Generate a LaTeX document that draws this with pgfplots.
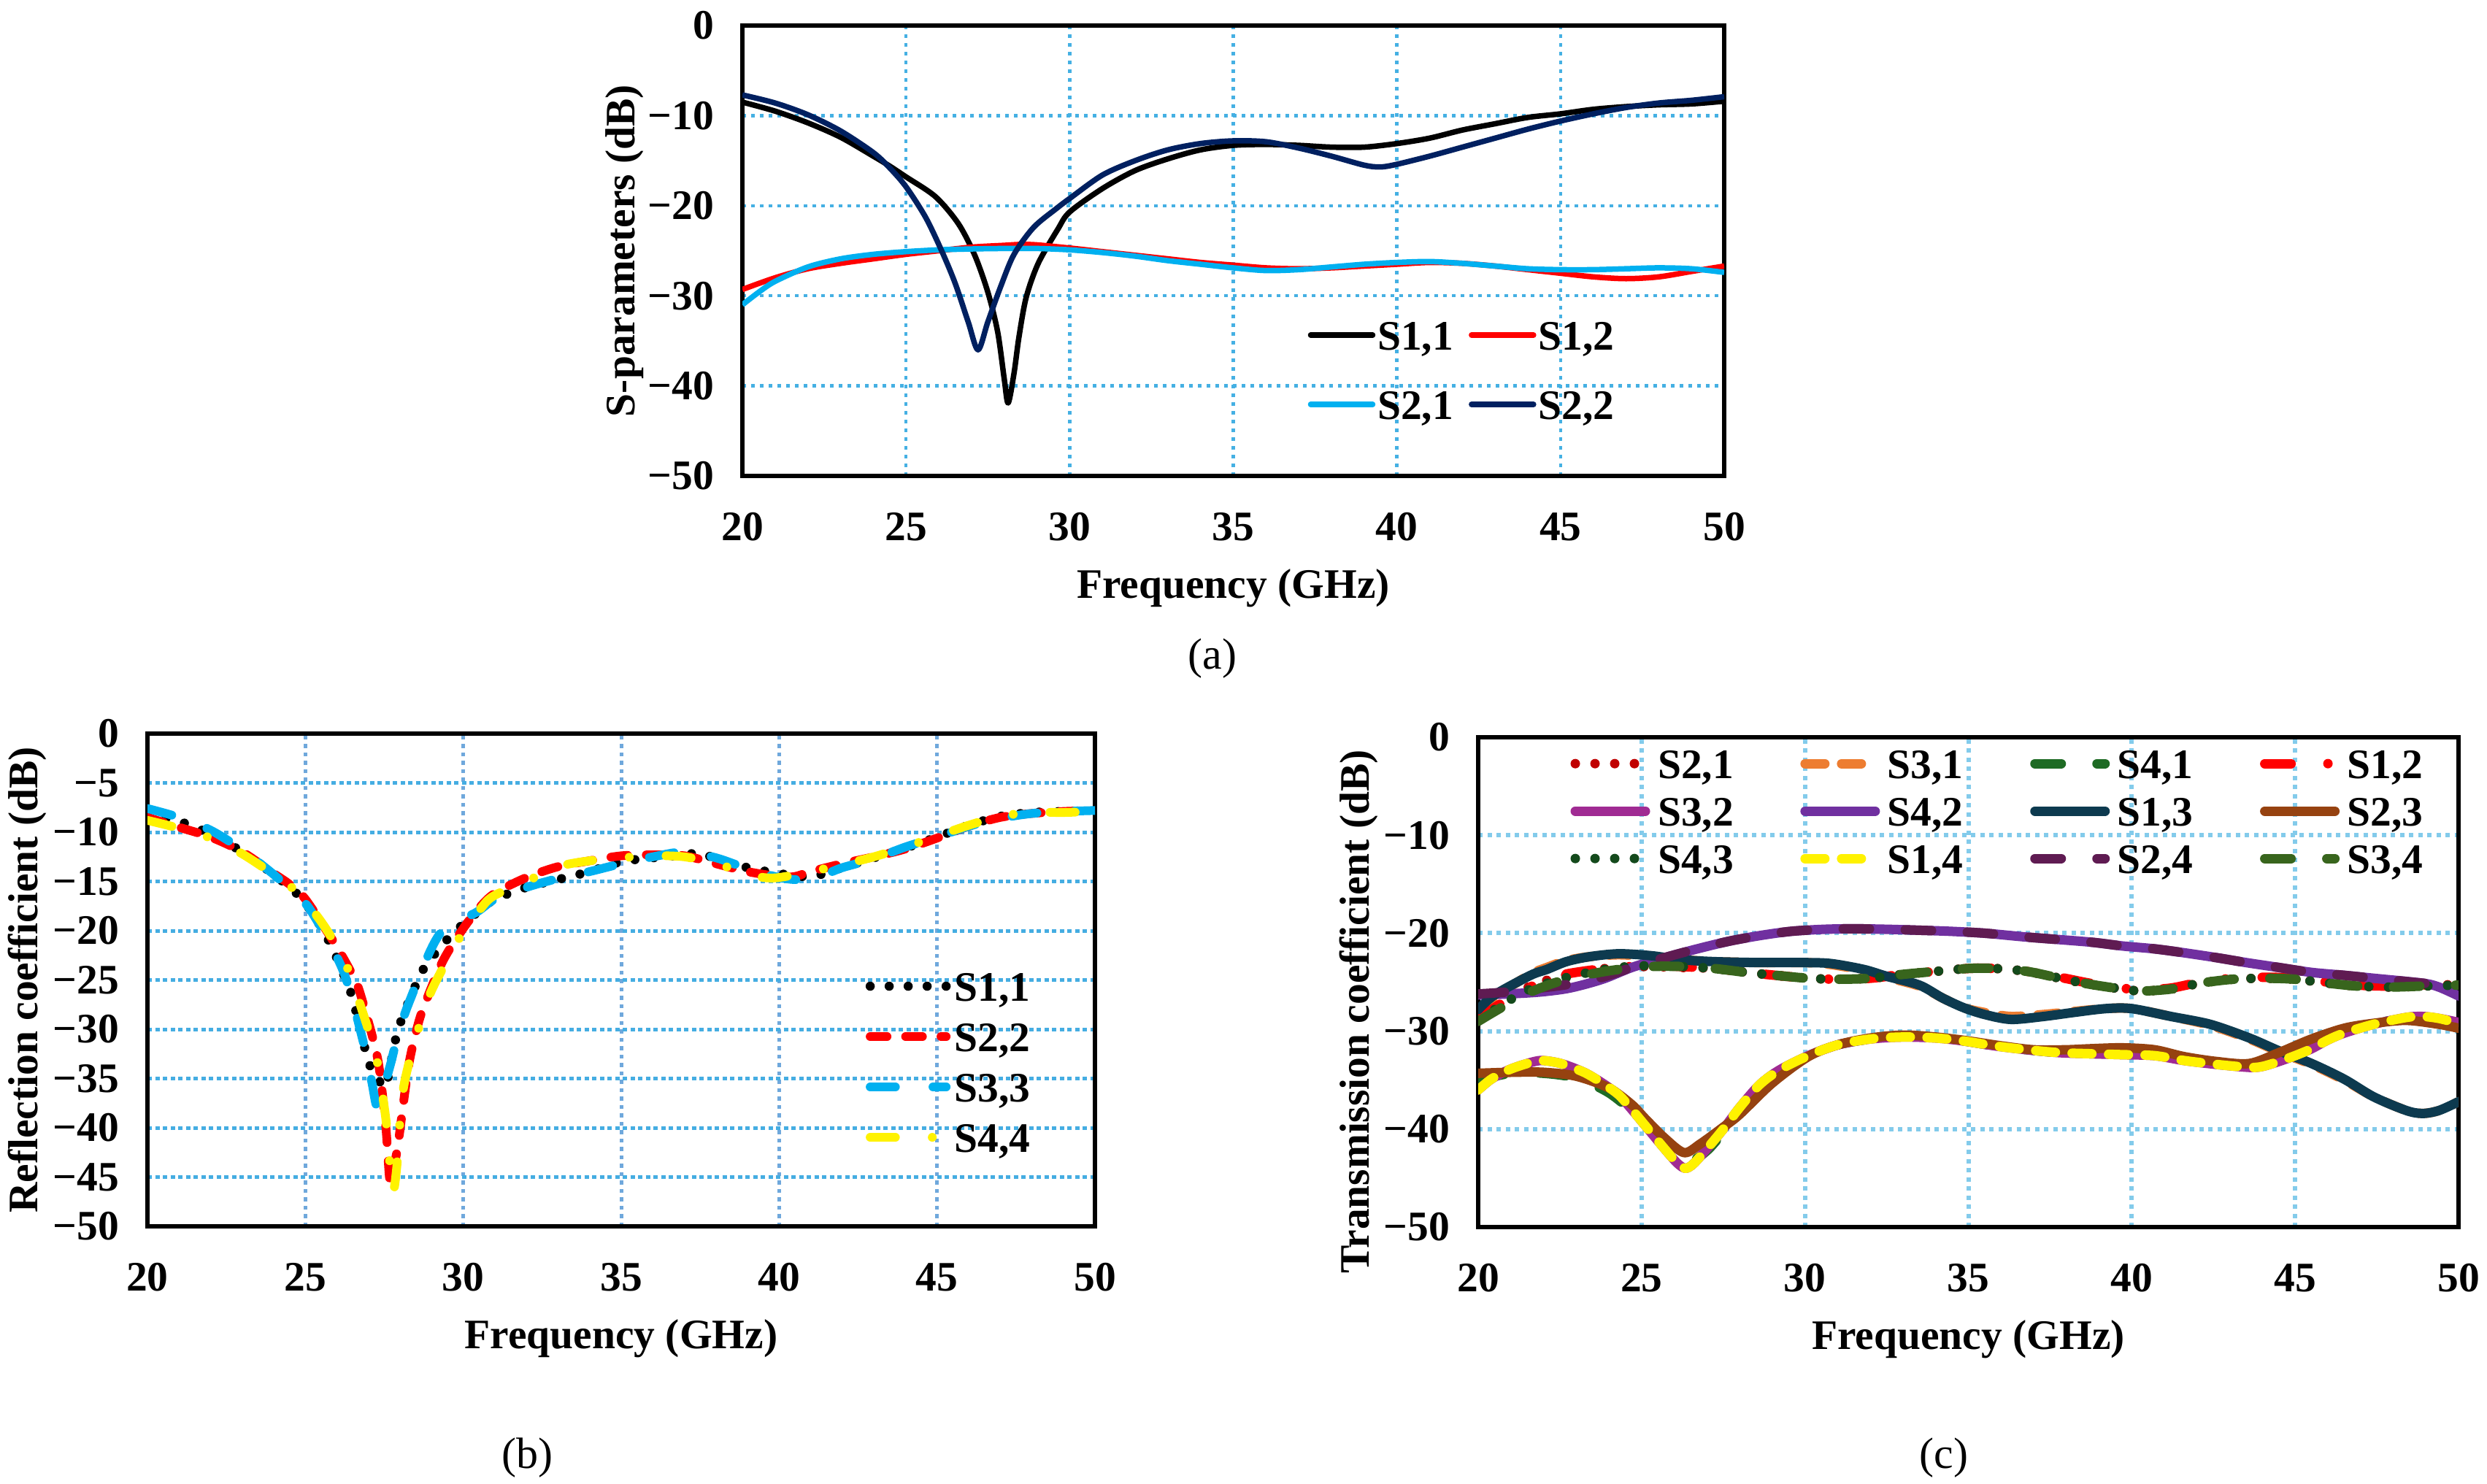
\documentclass[border=0pt]{standalone}
\usepackage{fontspec}
\setmainfont{Liberation Serif}
\usepackage{pgfplots}
\pgfplotsset{compat=1.18}

\definecolor{gridA}{HTML}{45B0E3}
\definecolor{gridBy}{HTML}{45ADE2}
\definecolor{gridBx}{HTML}{6FA8DC}
\definecolor{gridC}{HTML}{83CBEB}
\definecolor{lblue}{HTML}{00B0F0}
\definecolor{navy}{HTML}{002060}
\definecolor{dred}{HTML}{C00000}
\definecolor{orng}{HTML}{ED7D31}
\definecolor{grA}{HTML}{1E6B24}
\definecolor{mag}{HTML}{A02B93}
\definecolor{purp}{HTML}{7030A0}
\definecolor{tealc}{HTML}{0D3A4F}
\definecolor{brownc}{HTML}{964210}
\definecolor{dgrc}{HTML}{144A1C}
\definecolor{plum}{HTML}{5F1B52}
\definecolor{grB}{HTML}{38651D}

\newcommand{\ff}{\fontsize{11.5pt}{13.8pt}\selectfont\bfseries}

\pgfplotsset{
  myaxis/.style={
    scale only axis,
    xmin=20, xmax=50, ymin=-50, ymax=0,
    xtick={20,25,30,35,40,45,50},
    xticklabels={20,25,30,35,40,45,50},
    major tick length=0pt,
    grid=major,
    axis line style={line width=1.2pt, black},
    tick label style={font=\ff, inner sep=0pt},
    xticklabel style={anchor=base, yshift=-17.7pt},
    yticklabel style={anchor=east, xshift=-7.6pt},
    label style={font=\ff, inner sep=0pt},
    xlabel={Frequency (GHz)},
    xlabel style={at={(axis description cs:0.5,0)}, anchor=base, yshift=-33.5pt},
    legend cell align=left,
    every axis plot/.append style={line join=round},
  },
  bdot/.style={line width=2.5pt, line cap=round, dash pattern=on 0pt off 5.2pt},
  bdash/.style={line width=2.4pt, line cap=round, dash pattern=on 4.6pt off 5.1pt},
  blong/.style={line width=2.4pt, line cap=round, dash pattern=on 6.9pt off 10.3pt},
  blongdot/.style={line width=2.4pt, line cap=round, dash pattern=on 6.9pt off 10.1pt on 0pt off 10.1pt},
  csolid/.style={line width=2.6pt, line cap=round},
  cdot/.style={line width=2.6pt, line cap=round, dash pattern=on 0pt off 5.4pt},
  cdash/.style={line width=2.6pt, line cap=round, dash pattern=on 5.4pt off 4.6pt},
  clong/.style={line width=2.6pt, line cap=round, dash pattern=on 7.2pt off 9.8pt},
  clongdot/.style={line width=2.6pt, line cap=round, dash pattern=on 7.2pt off 10.1pt on 0pt off 10.1pt},
}

\begin{document}
\begin{tikzpicture}
\useasboundingbox (0,0) rectangle (681.4pt,-406.4pt);

% ---------------- (a) ----------------
\begin{axis}[myaxis,
  at={(203.4pt,-130.4pt)}, anchor=south west,
  width=269pt, height=123.4pt,
  ytick={-50,-40,-30,-20,-10,0},
  yticklabels={−50,−40,−30,−20,−10,0},
  grid style={color=gridA, line width=0.9pt, dash pattern=on 1pt off 1.4pt},
  ylabel={S-parameters (dB)},
  ylabel style={at={(axis description cs:-0.110,0.5)}, anchor=base},
  legend columns=2,
  legend image code/.code={\draw[#1, line cap=round] (0pt,0pt) -- (17pt,0pt);},
  legend style={draw=none, fill=none, inner sep=0pt, outer sep=0pt,
    at={(axis description cs:0.576,0.3452)}, anchor=north west,
    row sep=11pt,
    nodes={inner sep=0pt, text height=8pt, text depth=0pt, font=\ff},
    /tikz/every odd column/.append style={column sep=0.6pt},
    /tikz/every even column/.append style={column sep=4.2pt}},
]
\addplot[black, line width=1.5pt, smooth] coordinates {
(20,-8.5)(21,-9.5)(22,-10.8)(23,-12.4)(24,-14.5)(24.5,-15.6)(25,-16.8)(25.9,-19.0)(26.6,-22.0)(27.1,-25.5)(27.5,-29.6)(27.8,-34.0)(28.0,-39.2)(28.12,-41.9)(28.3,-38.6)(28.45,-34.6)(28.67,-30.2)(29.04,-26.4)(29.64,-22.6)(30,-20.7)(31,-18.1)(32,-16.1)(33,-14.8)(34,-13.8)(35,-13.3)(36,-13.2)(37,-13.3)(38,-13.5)(39,-13.5)(40,-13.1)(41,-12.5)(42,-11.6)(43,-10.9)(44,-10.2)(45,-9.8)(46,-9.3)(47,-9.0)(48,-8.8)(49,-8.7)(50,-8.4)};
\addlegendentry{S1,1}
\addplot[red, line width=1.5pt, smooth] coordinates {
(20,-29.3)(21,-28.0)(22,-27.0)(23,-26.4)(24,-25.9)(25,-25.4)(26,-25.0)(27,-24.6)(28,-24.4)(28.5,-24.3)(29,-24.35)(30,-24.7)(31,-25.1)(32,-25.5)(33,-25.9)(34,-26.3)(35,-26.6)(36,-26.9)(37,-27.0)(38,-26.9)(39,-26.7)(40,-26.5)(41,-26.3)(42,-26.4)(43,-26.7)(44,-27.1)(45,-27.5)(46,-27.9)(47,-28.1)(48,-27.9)(49,-27.3)(50,-26.7)};
\addlegendentry{S1,2}
\addplot[lblue, line width=1.5pt, smooth] coordinates {
(20,-31.0)(20.5,-29.6)(21,-28.4)(22,-26.8)(23,-25.9)(24,-25.4)(25,-25.1)(26,-24.9)(27,-24.8)(28,-24.75)(29,-24.75)(30,-24.9)(31,-25.2)(32,-25.6)(33,-26.1)(34,-26.5)(35,-26.9)(36,-27.2)(37,-27.1)(38,-26.8)(39,-26.5)(40,-26.3)(41,-26.2)(42,-26.4)(43,-26.7)(44,-27.0)(45,-27.1)(46,-27.1)(47,-27.0)(48,-26.9)(49,-27.0)(50,-27.4)};
\addlegendentry{S2,1}
\addplot[navy, line width=1.5pt, smooth] coordinates {
(20,-7.7)(21,-8.6)(22,-9.9)(23,-11.7)(24,-14.1)(24.5,-15.8)(25,-17.9)(25.6,-21.3)(26.1,-25.1)(26.5,-28.6)(26.9,-32.9)(27.2,-36.0)(27.5,-32.9)(27.9,-28.9)(28.3,-25.4)(28.9,-22.4)(29.6,-20.3)(30,-19.2)(31,-16.6)(32,-15.0)(33,-13.8)(34,-13.1)(35,-12.8)(36,-12.9)(37,-13.6)(38,-14.5)(39,-15.5)(39.5,-15.7)(40,-15.4)(41,-14.5)(42,-13.5)(43,-12.5)(44,-11.5)(45,-10.6)(46,-9.8)(47,-9.1)(48,-8.6)(49,-8.3)(50,-7.9)};
\addlegendentry{S2,2}
\end{axis}

% ---------------- (b) ----------------
\begin{axis}[myaxis,
  at={(40.4pt,-336pt)}, anchor=south west,
  width=259.6pt, height=135pt,
  ytick={-50,-45,-40,-35,-30,-25,-20,-15,-10,-5,0},
  yticklabels={−50,−45,−40,−35,−30,−25,−20,−15,−10,−5,0},
  x grid style={color=gridBx, line width=1pt, dash pattern=on 1.1pt off 1.2pt},
  y grid style={color=gridBy, line width=1pt, dash pattern=on 1.2pt off 0.9pt},
  ylabel={Reflection coefficient (dB)},
  ylabel style={at={(axis description cs:-0.1156,0.5)}, anchor=base},
  legend columns=1,
  legend image code/.code={\draw[#1] (0pt,0pt) -- (20.8pt,0pt);},
  legend style={draw=none, fill=none, inner sep=0pt, outer sep=0pt,
    at={(axis description cs:0.758,0.517)}, anchor=north west,
    row sep=5.8pt,
    nodes={inner sep=0pt, text height=8pt, text depth=0pt, font=\ff},
    /tikz/every odd column/.append style={column sep=1.1pt}},
]
\addplot[black, bdot, smooth] coordinates {
(20,-8.2)(21,-8.9)(22,-10.2)(23,-12.0)(24,-14.3)(24.5,-15.6)(25,-17.2)(25.77,-21.2)(26.43,-26.2)(26.58,-27.9)(27.0,-33.3)(27.3,-35.0)(27.55,-35.7)(27.93,-30.1)(28.55,-25.1)(28.82,-23.5)(29.4,-21.2)(29.97,-19.4)(30.5,-18.0)(31,-16.8)(32,-15.6)(33,-14.8)(34,-14.0)(35,-13.0)(36,-12.6)(37,-12.3)(37.5,-12.1)(38,-12.7)(39,-13.6)(40,-14.2)(41,-14.5)(42,-13.6)(43,-12.6)(44,-11.6)(45,-10.5)(46,-9.3)(47,-8.4)(48,-8.0)(49,-7.9)(50,-7.8)};
\addlegendentry{S1,1}
\addplot[red, bdash, smooth] coordinates {
(20,-8.5)(21,-9.5)(22,-10.5)(23,-12.0)(24,-14.2)(24.5,-15.3)(25,-16.8)(25.89,-21.1)(26.43,-24.1)(26.7,-26.0)(27.16,-31.2)(27.35,-34.2)(27.55,-40.0)(27.68,-45.5)(27.8,-44.0)(27.93,-41.8)(28.08,-38.1)(28.28,-33.5)(28.51,-30.2)(28.74,-27.8)(29.35,-23.1)(29.97,-19.9)(30.5,-17.7)(31,-16.2)(32,-14.6)(33,-13.5)(34,-12.9)(35,-12.4)(36,-12.3)(37,-12.4)(38,-13.2)(39,-14.0)(40,-14.5)(40.5,-14.5)(41,-14.0)(42,-13.2)(43,-12.5)(44,-11.7)(45,-10.6)(46,-9.4)(47,-8.5)(48,-8.1)(49,-7.9)(50,-7.8)};
\addlegendentry{S2,2}
\addplot[lblue, blong, smooth] coordinates {
(20,-7.6)(21,-8.5)(22,-9.8)(23,-11.8)(24,-14.3)(24.5,-15.8)(25.16,-17.9)(26.2,-24.1)(26.85,-31.5)(27.1,-35.3)(27.27,-37.9)(27.45,-36.3)(27.7,-33.5)(27.9,-31.0)(28.28,-27.3)(29.24,-20.4)(30.43,-18.1)(31,-16.8)(32,-15.6)(33,-14.7)(34,-14.0)(35,-13.2)(36,-12.5)(37,-12.0)(38,-12.6)(39,-13.7)(40,-14.6)(40.7,-14.8)(41.5,-14.2)(42,-13.6)(43,-12.7)(44,-11.5)(45,-10.5)(46,-9.4)(47,-8.6)(48,-8.1)(49,-7.9)(50,-7.8)};
\addlegendentry{S3,3}
\addplot[yellow, blongdot, smooth] coordinates {
(20,-8.8)(21,-9.6)(22,-10.6)(23,-12.2)(24,-14.3)(24.5,-15.4)(25.27,-18.1)(25.81,-20.6)(26.31,-23.6)(26.97,-29.8)(27.27,-33.2)(27.54,-38.9)(27.66,-43.1)(27.77,-46.5)(27.89,-44.1)(28.12,-35.7)(28.82,-27.5)(29.35,-23.8)(29.74,-21.4)(30.59,-17.6)(31,-16.4)(32,-15.0)(33,-13.5)(34,-12.9)(35,-12.6)(36,-12.4)(37,-12.5)(38,-13.2)(39,-14.2)(39.5,-14.6)(40,-14.6)(41,-14.0)(42,-13.3)(43,-12.5)(44,-11.5)(45,-10.4)(46,-9.3)(47,-8.4)(48,-8.0)(49,-8.0)(50,-7.9)};
\addlegendentry{S4,4}
\end{axis}

% ---------------- (c) ----------------
\begin{axis}[myaxis,
  at={(405pt,-336.2pt)}, anchor=south west,
  width=268.6pt, height=134.2pt,
  ytick={-50,-40,-30,-20,-10,0},
  yticklabels={−50,−40,−30,−20,−10,0},
  grid style={color=gridC, line width=1.2pt, dash pattern=on 1.2pt off 1.3pt},
  ylabel={Transmission coefficient (dB)},
  ylabel style={at={(axis description cs:-0.111,0.44)}, anchor=base},
  legend columns=4,
  legend image code/.code={\draw[#1] (0pt,0pt) -- (19.2pt,0pt);},
  legend style={draw=none, fill=none, inner sep=0pt, outer sep=0pt,
    at={(axis description cs:0.0942,0.976)}, anchor=north west,
    row sep=5pt,
    nodes={inner sep=0pt, text height=8pt, text depth=0pt, font=\ff},
    /tikz/every odd column/.append style={column sep=2.1pt},
    /tikz/every even column/.append style={column sep=18.3pt}},
]
% S2,1
\addplot[dred, cdot, smooth] coordinates {
(20,-28.7)(20.5,-27.5)(21.4,-25.7)(22.4,-24.5)(23.4,-23.8)(24.3,-23.5)(25.3,-23.4)(26.2,-23.5)(27.2,-23.6)(28.2,-24.0)(29.1,-24.3)(30.1,-24.6)(31,-24.7)(32,-24.6)(33,-24.2)(34,-23.9)(35,-23.6)(35.8,-23.6)(36.8,-23.9)(37.8,-24.6)(38.7,-25.2)(39.7,-25.7)(40.3,-25.9)(41.2,-25.7)(42.1,-25.1)(43.1,-24.7)(44.1,-24.6)(45,-24.7)(46,-25.1)(46.9,-25.4)(47.9,-25.5)(48.9,-25.4)(50,-25.2)};
\addlegendentry{S2,1}
% S3,1
\addplot[orng, cdash, smooth] coordinates {
(20,-28.0)(20.5,-26.5)(21.6,-24.2)(22.1,-23.5)(22.7,-22.8)(23.4,-22.4)(24.3,-22.2)(25.3,-22.4)(26.2,-22.7)(27.2,-22.9)(28.6,-23.0)(30,-23.0)(30.8,-23.2)(31.8,-23.8)(32.5,-24.5)(33.5,-25.4)(34.2,-26.6)(34.85,-27.6)(35.5,-28.1)(36.3,-28.5)(37.3,-28.3)(38.2,-28.0)(39.2,-27.7)(40,-27.7)(41.2,-28.5)(42.4,-29.4)(43.6,-30.8)(44.5,-32.1)(45.5,-33.4)(46.5,-35.0)(47.4,-36.7)(48.4,-38.1)(48.9,-38.4)(49.4,-38.1)(50,-37.2)};
\addlegendentry{S3,1}
% S4,1
\addplot[grA, clong, smooth] coordinates {
(20,-35.0)(21,-34.3)(22,-34.3)(23,-34.8)(24,-36.3)(25,-39.0)(26,-42.0)(26.5,-43.2)(27,-42.2)(27.5,-40.3)(28,-38.0)(28.6,-35.8)(29.2,-34.2)(30.1,-32.6)(31.0,-31.4)(32,-30.8)(33,-30.5)(34,-30.7)(34.85,-31.0)(35.8,-31.5)(36.8,-31.9)(37.8,-32.2)(38.7,-32.3)(39.7,-32.3)(40.7,-32.4)(41.6,-32.9)(42.6,-33.3)(43.6,-33.6)(44.0,-33.5)(44.5,-33.0)(45,-32.3)(45.5,-31.4)(46,-30.4)(46.5,-29.8)(47.4,-29.2)(48.4,-28.7)(48.9,-28.6)(49.4,-28.8)(50,-29.2)};
\addlegendentry{S4,1}
% S1,2
\addplot[red, clongdot, smooth] coordinates {
(20,-28.8)(20.5,-27.6)(21.4,-25.8)(22.4,-24.4)(23.4,-23.8)(24.3,-23.5)(25.3,-23.3)(26.2,-23.4)(27.2,-23.6)(28.2,-24.0)(29.1,-24.3)(30.1,-24.6)(31,-24.7)(32,-24.6)(33,-24.2)(34,-23.9)(35,-23.6)(35.8,-23.6)(36.8,-23.9)(37.8,-24.5)(38.7,-25.1)(39.7,-25.6)(40.3,-25.8)(41.2,-25.6)(42.1,-25.0)(43.1,-24.6)(44.1,-24.5)(45,-24.6)(46,-25.0)(46.9,-25.3)(47.9,-25.4)(48.9,-25.3)(50,-25.0)};
\addlegendentry{S1,2}
% S3,2
\addplot[mag, csolid, smooth] coordinates {
(20,-36.0)(20.4,-34.9)(20.9,-34.0)(21.4,-33.4)(21.9,-33.0)(22.4,-33.2)(22.8,-33.6)(23.3,-34.3)(23.8,-35.3)(24.3,-36.5)(24.7,-38.0)(25.2,-40.0)(25.7,-42.0)(26.1,-43.5)(26.35,-44.0)(26.6,-43.5)(27.0,-42.0)(27.5,-40.0)(28.0,-37.8)(28.6,-35.5)(29.2,-34.0)(30.1,-32.5)(31.0,-31.4)(32,-30.8)(33,-30.6)(34,-30.7)(34.85,-31.0)(35.8,-31.5)(36.8,-31.9)(37.8,-32.2)(38.7,-32.3)(39.7,-32.4)(40.7,-32.5)(41.6,-33.0)(42.6,-33.4)(43.6,-33.7)(44.0,-33.6)(44.5,-33.1)(45,-32.5)(45.5,-31.8)(46,-30.9)(46.5,-30.2)(47.4,-29.3)(48.4,-28.6)(48.9,-28.5)(49.4,-28.7)(50,-29.1)};
\addlegendentry{S3,2}
% S4,2
\addplot[purp, csolid, smooth] coordinates {
(20,-26.3)(20.9,-26.2)(21.9,-26.0)(22.8,-25.6)(23.8,-24.7)(24.7,-23.5)(25.7,-22.5)(26.7,-21.6)(27.7,-20.8)(28.7,-20.2)(29.6,-19.8)(30.6,-19.6)(31.5,-19.55)(32.5,-19.6)(33.5,-19.7)(34.4,-19.8)(35.5,-20.0)(36.8,-20.4)(38.7,-20.9)(39.7,-21.3)(40.7,-21.6)(41.6,-22.0)(42.6,-22.5)(43.5,-23.0)(44.5,-23.5)(45.5,-24.0)(46.5,-24.3)(47.4,-24.6)(48.9,-25.1)(49.4,-25.5)(50,-26.4)};
\addlegendentry{S4,2}
% S1,3
\addplot[tealc, csolid, smooth] coordinates {
(20,-27.8)(20.5,-26.3)(21.6,-24.3)(22.1,-23.7)(22.7,-22.9)(23.4,-22.4)(24.3,-22.1)(25.3,-22.3)(26.2,-22.7)(27.2,-22.9)(28.6,-23.0)(30,-23.0)(30.8,-23.1)(31.8,-23.7)(32.5,-24.4)(33.5,-25.3)(34.2,-26.6)(34.85,-27.6)(35.5,-28.3)(36.3,-28.8)(37.3,-28.5)(38.2,-28.1)(39.2,-27.7)(40,-27.7)(41.2,-28.5)(42.4,-29.3)(43.6,-30.7)(44.5,-32.0)(45.5,-33.3)(46.5,-34.9)(47.4,-36.7)(48.4,-38.1)(48.9,-38.4)(49.4,-38.1)(50,-37.2)};
\addlegendentry{S1,3}
% S2,3
\addplot[brownc, csolid, smooth] coordinates {
(20,-34.3)(21,-34.2)(22,-34.2)(23,-34.6)(24,-35.8)(24.7,-37.5)(25.1,-38.9)(25.7,-40.9)(26.3,-42.4)(26.8,-41.5)(27.5,-39.8)(28.0,-38.5)(29,-35.3)(30.1,-32.6)(31,-31.4)(32,-30.7)(33,-30.4)(34,-30.6)(35,-31.0)(36,-31.5)(37,-31.9)(38,-31.9)(38.7,-31.8)(39.7,-31.7)(40.7,-31.9)(41.6,-32.6)(42.6,-33.1)(43.6,-33.3)(44.5,-32.2)(45.5,-30.8)(46.5,-29.7)(47.4,-29.2)(48.4,-28.9)(49.4,-29.3)(50,-29.7)};
\addlegendentry{S2,3}
% S4,3
\addplot[dgrc, cdot, smooth] coordinates {
(20,-28.9)(20.5,-27.8)(21.4,-26.0)(22.4,-24.8)(23.4,-24.0)(24.3,-23.5)(25.3,-23.3)(26.2,-23.4)(27.2,-23.6)(28.2,-24.0)(29.1,-24.3)(30.1,-24.6)(31,-24.7)(32,-24.6)(33,-24.2)(34,-23.9)(35,-23.6)(35.8,-23.6)(36.8,-23.9)(37.8,-24.6)(38.7,-25.2)(39.7,-25.7)(40.3,-25.9)(41.2,-25.7)(42.1,-25.1)(43.1,-24.7)(44.1,-24.6)(45,-24.7)(46,-25.1)(46.9,-25.4)(47.9,-25.5)(48.9,-25.4)(50,-25.3)};
\addlegendentry{S4,3}
% S1,4
\addplot[yellow, cdash, smooth] coordinates {
(20,-36.0)(20.4,-34.9)(20.9,-34.0)(21.4,-33.4)(21.9,-33.0)(22.4,-33.2)(22.8,-33.6)(23.3,-34.3)(23.8,-35.3)(24.3,-36.5)(24.7,-38.0)(25.2,-40.0)(25.7,-42.0)(26.1,-43.5)(26.35,-44.0)(26.6,-43.5)(27.0,-42.0)(27.5,-40.0)(28.0,-37.8)(28.6,-35.5)(29.2,-34.0)(30.1,-32.5)(31.0,-31.4)(32,-30.8)(33,-30.6)(34,-30.7)(34.85,-31.0)(35.8,-31.5)(36.8,-31.9)(37.8,-32.2)(38.7,-32.3)(39.7,-32.4)(40.7,-32.5)(41.6,-33.0)(42.6,-33.4)(43.6,-33.7)(44.0,-33.6)(44.5,-33.1)(45,-32.5)(45.5,-31.8)(46,-30.9)(46.5,-30.2)(47.4,-29.3)(48.4,-28.6)(48.9,-28.5)(49.4,-28.7)(50,-29.2)};
\addlegendentry{S1,4}
% S2,4
\addplot[plum, clong, smooth] coordinates {
(20,-26.2)(20.9,-26.0)(21.9,-25.6)(22.8,-25.2)(23.8,-24.5)(24.7,-23.5)(25.7,-22.5)(26.7,-21.6)(27.7,-20.8)(28.7,-20.2)(29.6,-19.8)(30.6,-19.6)(31.5,-19.55)(32.5,-19.6)(33.5,-19.7)(34.4,-19.8)(35.5,-20.0)(36.8,-20.4)(38.7,-20.9)(39.7,-21.3)(40.7,-21.6)(41.6,-22.0)(42.6,-22.5)(43.5,-23.0)(44.5,-23.5)(45.5,-24.0)(46.5,-24.3)(47.4,-24.6)(48.9,-25.1)(50,-25.4)};
\addlegendentry{S2,4}
% S3,4
\addplot[grB, clong, smooth] coordinates {
(20,-29.0)(20.5,-28.0)(21.4,-26.3)(22.4,-25.0)(23.4,-24.2)(24.3,-23.7)(25.3,-23.4)(26.2,-23.4)(27.2,-23.6)(28.2,-24.0)(29.1,-24.3)(30.1,-24.6)(31,-24.7)(32,-24.6)(33,-24.2)(34,-23.9)(35,-23.6)(35.8,-23.6)(36.8,-23.9)(37.8,-24.6)(38.7,-25.2)(39.7,-25.7)(40.3,-25.9)(41.2,-25.7)(42.1,-25.1)(43.1,-24.7)(44.1,-24.6)(45,-24.7)(46,-25.1)(46.9,-25.4)(47.9,-25.5)(48.9,-25.4)(50,-25.3)};
\addlegendentry{S3,4}
\end{axis}

\node[font=\fontsize{12pt}{14pt}\selectfont, anchor=base, inner sep=0pt] at (332.2pt,-183.2pt) {(a)};
\node[font=\fontsize{12pt}{14pt}\selectfont, anchor=base, inner sep=0pt] at (144.4pt,-402.2pt) {(b)};
\node[font=\fontsize{12pt}{14pt}\selectfont, anchor=base, inner sep=0pt] at (532.6pt,-402.2pt) {(c)};
\end{tikzpicture}
\end{document}
